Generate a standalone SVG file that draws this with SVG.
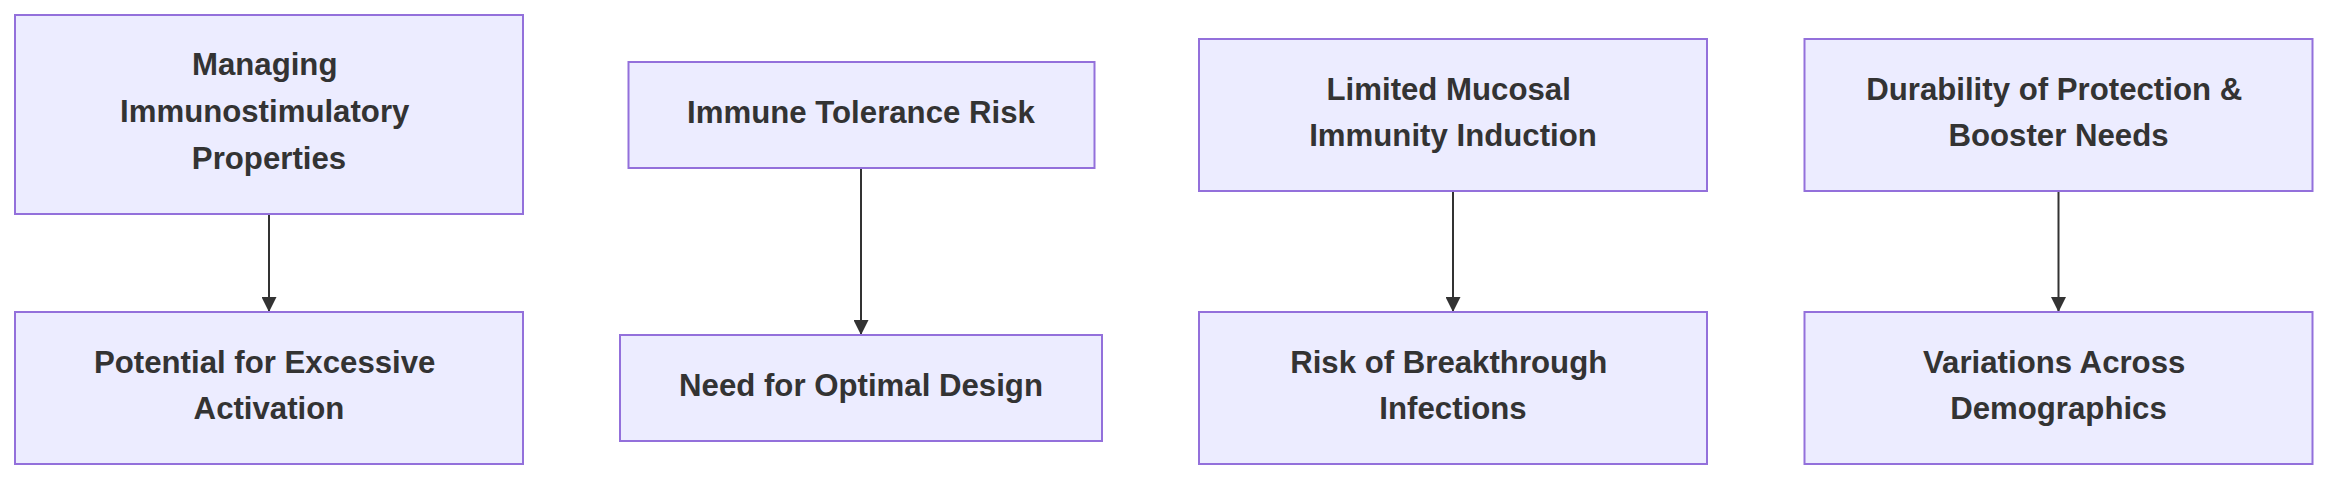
<svg xmlns="http://www.w3.org/2000/svg" width="2352" height="486" viewBox="0 0 2352 486">
  <style>
    .node rect { fill: #ECECFF; stroke: #9370DB; stroke-width: 2; }
    .node text { font-family: "Liberation Sans", Arial, Helvetica, sans-serif; font-size: 31.2px; font-weight: bold; fill: #333333; text-anchor: middle; }
    .edge { stroke: #333333; stroke-width: 2; fill: none; }
  </style>
  <defs>
    <marker id="arrow" markerUnits="userSpaceOnUse" markerWidth="15" markerHeight="15" viewBox="0 0 15 15" refX="15" refY="7.5" orient="auto">
      <path d="M0,0 L15,7.5 L0,15 z" fill="#333333"/>
    </marker>
  </defs>
  <rect width="2352" height="486" fill="#ffffff"/>
  <g id="connectors">
    <line class="edge" x1="269" y1="214" x2="269" y2="312" marker-end="url(#arrow)"/>
    <line class="edge" x1="861" y1="168" x2="861" y2="335" marker-end="url(#arrow)"/>
    <line class="edge" x1="1453" y1="191" x2="1453" y2="312" marker-end="url(#arrow)"/>
    <line class="edge" x1="2058.5" y1="191" x2="2058.5" y2="312" marker-end="url(#arrow)"/>
  </g>
  <g id="node-managing" class="node">
    <rect x="15" y="15" width="508" height="199"/>
    <text x="264.7" y="75">Managing</text>
    <text x="264.7" y="122">Immunostimulatory</text>
    <text x="269" y="169">Properties</text>
  </g>
  <g id="node-tolerance" class="node">
    <rect x="628.5" y="62" width="466" height="106"/>
    <text x="861" y="122.5">Immune Tolerance Risk</text>
  </g>
  <g id="node-mucosal" class="node">
    <rect x="1199" y="39" width="508" height="152"/>
    <text x="1448.7" y="99.5">Limited Mucosal</text>
    <text x="1453" y="146">Immunity Induction</text>
  </g>
  <g id="node-durability" class="node">
    <rect x="1804.5" y="39" width="508" height="152"/>
    <text x="2054.2" y="99.5">Durability of Protection &amp;</text>
    <text x="2058.5" y="146">Booster Needs</text>
  </g>
  <g id="node-excessive" class="node">
    <rect x="15" y="312" width="508" height="152"/>
    <text x="264.7" y="372.5">Potential for Excessive</text>
    <text x="269" y="419">Activation</text>
  </g>
  <g id="node-design" class="node">
    <rect x="620" y="335" width="482" height="106"/>
    <text x="861" y="395.5">Need for Optimal Design</text>
  </g>
  <g id="node-breakthrough" class="node">
    <rect x="1199" y="312" width="508" height="152"/>
    <text x="1448.7" y="372.5">Risk of Breakthrough</text>
    <text x="1453" y="419">Infections</text>
  </g>
  <g id="node-demographics" class="node">
    <rect x="1804.5" y="312" width="508" height="152"/>
    <text x="2054.2" y="372.5">Variations Across</text>
    <text x="2058.5" y="419">Demographics</text>
  </g>
</svg>
